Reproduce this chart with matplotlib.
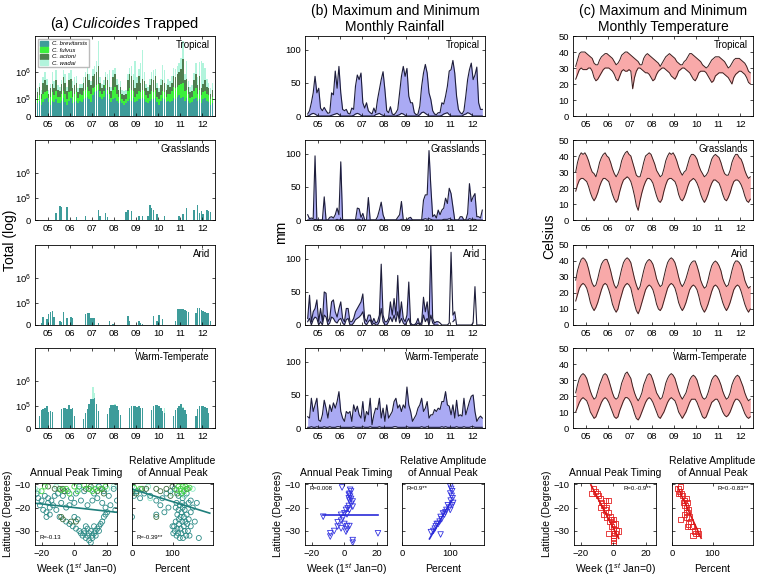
import numpy as np
import matplotlib.pyplot as plt
from matplotlib.patches import Patch

plt.rcParams['font.family'] = ['Liberation Sans', 'DejaVu Sans']
plt.rcParams['mathtext.fontset'] = 'custom'
plt.rcParams['mathtext.rm'] = 'Liberation Sans'
plt.rcParams['mathtext.it'] = 'Liberation Sans:italic'
plt.rcParams['axes.linewidth'] = 0.6

years = ['05', '06', '07', '08', '09', '10', '11', '12']
regions = ['Tropical', 'Grasslands', 'Arid', 'Warm-Temperate']
species = ['C. brevitarsis', 'C. fulvus', 'C. actoni', 'C. wadai']

# Culicoides catches, log10 of the top of each stacked layer, Jan 2005 - Dec 2012 (0 = none)
trop_brev = [4.85, 4.95, 4.80, 4.90, 5.00, 5.05, 4.90, 4.80, 4.95, 4.90, 5.00, 4.85,
             4.85, 4.95, 5.05, 4.90, 4.80, 4.95, 5.05, 4.85, 4.90, 4.95, 4.85, 4.95,
             4.90, 5.00, 5.05, 5.10, 5.00, 4.90, 5.15, 5.25, 5.30, 5.35, 5.10, 5.00,
             5.10, 5.40, 5.20, 5.00, 4.90, 5.00, 5.05, 4.95, 4.85, 4.95, 4.85, 4.80,
             4.85, 4.95, 5.00, 4.95, 5.05, 4.90, 4.95, 5.00, 5.00, 5.05, 5.00, 4.90,
             4.85, 4.95, 5.00, 5.00, 5.05, 4.90, 4.80, 4.95, 5.05, 5.00, 4.90, 4.95,
             4.90, 4.95, 5.05, 5.00, 5.10, 5.15, 5.05, 5.10, 4.95, 5.05, 4.95, 4.85,
             4.90, 5.00, 5.05, 4.95, 5.00, 4.85, 5.00, 5.05, 4.95, 4.90, 4.80, 4.85]
trop_fulv = [5.05, 5.15, 5.00, 5.20, 5.25, 5.30, 5.05, 5.10, 5.25, 5.15, 5.30, 5.10,
             5.10, 5.20, 5.30, 5.20, 5.00, 5.25, 5.30, 5.10, 5.20, 5.25, 5.05, 5.20,
             5.15, 5.30, 5.35, 5.45, 5.30, 5.20, 5.40, 5.45, 5.50, 5.55, 5.30, 5.20,
             5.30, 5.50, 5.35, 5.20, 5.05, 5.35, 5.45, 5.20, 5.10, 5.20, 5.00, 4.95,
             5.00, 5.30, 5.40, 5.35, 5.30, 5.10, 5.20, 5.30, 5.25, 5.35, 5.30, 5.15,
             5.05, 5.20, 5.30, 5.25, 5.35, 5.10, 5.00, 5.15, 5.30, 5.25, 5.10, 5.20,
             5.20, 5.30, 5.45, 5.40, 5.45, 5.50, 5.55, 5.60, 5.30, 5.35, 5.20, 5.05,
             5.10, 5.30, 5.40, 5.20, 5.35, 5.15, 5.25, 5.30, 5.20, 5.15, 5.00, 5.10]
trop_acto = [5.25, 5.45, 5.20, 5.60, 5.70, 5.50, 5.20, 5.40, 5.55, 5.40, 5.70, 5.35,
             5.30, 5.55, 5.80, 5.60, 5.30, 5.70, 5.75, 5.40, 5.50, 5.60, 5.25, 5.40,
             5.40, 5.60, 5.80, 5.90, 5.70, 5.50, 5.85, 5.90, 6.00, 6.20, 5.60, 5.40,
             5.50, 5.80, 5.70, 5.45, 5.30, 5.80, 5.90, 5.50, 5.35, 5.45, 5.20, 5.15,
             5.20, 5.70, 5.90, 5.85, 5.70, 5.40, 5.60, 5.85, 5.60, 5.75, 5.65, 5.40,
             5.30, 5.50, 5.75, 5.70, 5.85, 5.40, 5.25, 5.50, 5.70, 5.60, 5.35, 5.50,
             5.45, 5.60, 5.85, 5.80, 5.90, 6.00, 6.10, 6.45, 5.70, 5.75, 5.45, 5.25,
             5.30, 5.70, 5.90, 5.50, 5.85, 5.40, 5.55, 5.70, 5.45, 5.40, 5.20, 5.35]
trop_wada = [5.40, 5.60, 5.35, 5.80, 6.00, 5.75, 5.35, 5.55, 6.00, 5.65, 6.05, 5.50,
             5.45, 5.70, 6.05, 5.90, 5.45, 5.95, 6.05, 5.65, 5.80, 5.85, 5.40, 5.55,
             5.55, 5.80, 6.00, 6.20, 5.90, 5.65, 6.10, 6.20, 6.40, 7.10, 5.80, 5.55,
             5.70, 6.00, 5.90, 6.05, 5.45, 6.05, 6.15, 5.75, 5.55, 5.65, 5.35, 5.30,
             5.35, 5.90, 6.15, 6.20, 5.90, 6.40, 5.80, 6.10, 6.30, 6.78, 6.00, 5.55,
             5.45, 5.75, 6.00, 6.05, 6.10, 5.60, 5.40, 5.75, 6.25, 6.05, 5.55, 5.75,
             5.65, 5.85, 6.15, 6.10, 6.20, 6.30, 6.50, 7.10, 5.90, 6.40, 5.65, 5.45,
             5.50, 5.95, 6.30, 5.80, 6.35, 6.40, 6.30, 6.15, 5.75, 5.60, 5.40, 5.60]
grass_total = [0, 0, 0, 0, 0, 0, 0, 0, 0, 0, 4.40, 0,
               4.69, 4.66, 0, 0, 4.64, 0, 0, 0, 0, 4.27, 0, 0,
               0, 0, 4.31, 0, 0, 0, 0, 0, 0, 4.53, 4.31, 0,
               0, 4.40, 4.27, 0, 0, 0, 0, 0, 0, 0, 0, 0,
               4.45, 4.55, 0, 4.50, 0, 0, 0, 4.30, 0, 4.30, 0, 0,
               4.30, 4.72, 4.60, 4.52, 0, 4.36, 0, 0, 0, 4.30, 0, 0,
               0, 0, 0, 0, 0, 4.30, 0, 4.38, 0, 4.60, 0, 0,
               0, 4.55, 0, 4.72, 4.40, 4.50, 4.38, 0, 4.55, 4.50, 4.45, 0]
arid_total = [0, 0, 4.23, 4.45, 0, 4.36, 4.58, 4.64, 4.68, 4.45, 0, 0,
              4.30, 4.25, 4.65, 0, 4.40, 0, 4.45, 4.40, 0, 0, 0, 0,
              0, 0, 4.58, 4.62, 4.62, 4.40, 4.40, 4.40, 0, 4.23, 0, 0,
              0, 0, 0, 4.30, 0, 4.18, 0, 0, 0, 0, 0, 0,
              0, 4.50, 4.30, 0, 0, 0, 0, 4.30, 4.23, 4.18, 0, 0,
              0, 0, 0, 4.50, 0, 4.30, 4.55, 0, 4.38, 0, 0, 0,
              0, 0, 0, 4.30, 4.78, 4.78, 4.78, 4.78, 4.74, 4.70, 4.67, 0,
              0, 0, 4.62, 4.80, 4.82, 4.75, 4.68, 4.64, 4.62, 4.62, 4.30, 0]
warm_total = [0, 4.60, 4.86, 4.88, 4.93, 5.00, 4.78, 4.82, 4.78, 0, 0, 0,
              0, 4.90, 4.93, 4.95, 4.88, 5.05, 4.90, 4.95, 4.60, 0, 0, 0,
              0, 4.50, 4.75, 4.90, 5.10, 5.31, 5.30, 5.35, 5.10, 4.80, 0, 0,
              0, 0, 4.70, 4.95, 5.05, 5.05, 5.05, 5.00, 4.85, 4.65, 0, 0,
              0, 0, 4.95, 5.00, 5.00, 5.00, 4.98, 5.00, 4.95, 4.95, 0, 0,
              0, 0, 4.85, 5.00, 5.05, 5.05, 5.00, 4.95, 4.80, 4.75, 0, 0,
              0, 0, 4.60, 4.85, 4.92, 5.00, 5.10, 4.95, 4.85, 4.70, 0, 0,
              0, 0, 4.60, 4.90, 5.00, 5.00, 5.00, 4.98, 4.95, 4.75, 0, 0]
warm_wada = [0, 0, 0, 0, 0, 0, 0, 0, 0, 0, 0, 0,
             0, 0, 0, 0, 0, 0, 0, 0, 0, 0, 0, 0,
             0, 0, 0, 0, 0, 0, 5.76, 5.55, 0, 0, 0, 0,
             0, 0, 0, 0, 0, 0, 5.10, 0, 0, 0, 0, 0,
             0, 0, 0, 0, 0, 0, 0, 0, 0, 0, 0, 0,
             0, 0, 0, 0, 0, 0, 0, 0, 0, 4.95, 0, 0,
             0, 0, 0, 0, 0, 0, 0, 4.98, 0, 0, 0, 0,
             0, 0, 0, 0, 0, 0, 0, 0, 0, 0, 0, 0]

# monthly rainfall (mm), maximum and minimum over sites
trop_rmax = [3, 8, 20, 35, 60, 35, 42, 12, 8, 13, 8, 4,
             5, 35, 32, 68, 42, 75, 35, 10, 8, 10, 4, 3,
             12, 10, 45, 62, 55, 65, 20, 12, 20, 8, 5, 3,
             12, 5, 25, 40, 55, 67, 40, 8, 5, 14, 3, 2,
             5, 10, 35, 60, 75, 60, 72, 30, 20, 20, 5, 2,
             3, 15, 45, 65, 78, 65, 35, 25, 8, 3, 2, 5,
             5, 20, 18, 30, 45, 68, 70, 84, 65, 30, 10, 5,
             3, 8, 30, 55, 70, 80, 55, 62, 74, 20, 10, 10]
trop_rmin = [0, 1, 3, 4, 3, 1, 0, 0, 0, 0, 0, 0,
             0, 1, 2, 3, 4, 2, 0, 0, 0, 0, 0, 0,
             0, 1, 3, 4, 3, 1, 0, 0, 0, 0, 0, 0,
             0, 2, 3, 4, 2, 1, 0, 0, 0, 0, 0, 0,
             0, 1, 2, 4, 3, 1, 0, 0, 0, 0, 0, 0,
             0, 2, 5, 6, 4, 2, 0, 0, 0, 0, 0, 0,
             0, 1, 3, 4, 5, 2, 0, 0, 0, 0, 0, 0,
             0, 2, 3, 5, 4, 2, 0, 0, 0, 0, 0, 0]
grass_rmax = [8, 2, 3, 2, 97, 0, 0, 0, 0, 35, 0, 0,
              4, 5, 3, 8, 18, 8, 88, 0, 0, 0, 0, 0,
              0, 0, 0, 18, 17, 4, 10, 0, 0, 34, 0, 0,
              0, 0, 5, 15, 27, 8, 0, 0, 0, 0, 0, 0,
              0, 4, 8, 28, 0, 0, 0, 3, 4, 0, 0, 0,
              0, 0, 0, 30, 38, 38, 105, 50, 5, 8, 3, 15,
              8, 15, 18, 33, 25, 48, 40, 20, 0, 0, 0, 5,
              5, 0, 0, 10, 55, 28, 35, 40, 5, 5, 3, 15]
grass_rmin = [0, 0, 0, 0, 1, 0, 0, 0, 0, 0, 0, 0,
              0, 0, 0, 0, 1, 0, 1, 0, 0, 0, 0, 0,
              0, 0, 0, 1, 1, 0, 0, 0, 0, 0, 0, 0,
              0, 0, 0, 0, 1, 0, 0, 0, 0, 0, 0, 0,
              0, 0, 0, 1, 0, 0, 0, 0, 0, 0, 0, 0,
              0, 0, 0, 1, 2, 1, 2, 1, 0, 0, 0, 0,
              0, 0, 1, 1, 1, 2, 1, 0, 0, 0, 0, 0,
              0, 0, 0, 0, 2, 1, 1, 1, 0, 0, 0, 0]
arid_rmax = [10, 45, 5, 20, 25, 38, 5, 25, 5, 50, 48, 5,
             10, 35, 38, 20, 12, 25, 35, 10, 5, 25, 25, 5,
             5, 10, 20, 25, 30, 35, 47, 10, 5, 15, 15, 3,
             10, 3, 5, 15, 92, 15, 5, 5, 10, 35, 15, 40,
             15, 75, 10, 35, 10, 5, 15, 65, 3, 0, 0, 3,
             10, 0, 5, 42, 20, 35, 5, 120, 10, 3, 5, 5,
             3, 0, 0, 0, 0, 3, 110, 15, 20, 0, 0, 0,
             0, 0, 0, 0, 0, 0, 3, 58, 0, 0, 0, 0]
arid_rmin = [5, 10, 0, 8, 12, 10, 0, 5, 0, 15, 12, 0,
             3, 12, 10, 5, 3, 8, 10, 3, 0, 8, 10, 0,
             0, 3, 8, 10, 12, 15, 20, 3, 0, 5, 8, 0,
             3, 0, 0, 5, 25, 5, 0, 0, 5, 12, 5, 15,
             5, 20, 3, 10, 3, 0, 5, 10, 0, 0, 0, 0,
             3, 0, 0, 15, 5, 10, 0, 15, 3, 0, 0, 0,
             np.nan, np.nan, np.nan, np.nan, np.nan, np.nan, np.nan, 5, 8, np.nan, np.nan, np.nan,
             np.nan, np.nan, np.nan, np.nan, np.nan, np.nan, np.nan, np.nan, np.nan, np.nan, np.nan, np.nan]
warm_rmax = [17, 15, 45, 25, 35, 45, 12, 10, 20, 42, 30, 15,
             35, 25, 38, 30, 40, 55, 25, 15, 10, 25, 22, 25,
             10, 35, 25, 33, 20, 15, 40, 10, 25, 20, 45, 5,
             20, 30, 28, 45, 15, 30, 10, 35, 15, 20, 25, 40,
             45, 30, 35, 25, 35, 30, 62, 35, 25, 10, 15, 20,
             30, 35, 45, 25, 30, 40, 15, 20, 20, 28, 25, 30,
             28, 40, 40, 55, 35, 33, 20, 35, 15, 42, 18, 20,
             18, 45, 20, 30, 40, 48, 50, 25, 10, 15, 18, 15]
warm_rmin = [1, 1, 2, 1, 1, 2, 1, 1, 1, 2, 1, 1,
             2, 1, 1, 1, 2, 2, 1, 1, 1, 1, 1, 1,
             1, 2, 1, 1, 1, 1, 2, 1, 1, 1, 2, 1,
             1, 1, 1, 2, 1, 1, 1, 1, 1, 1, 1, 2,
             2, 1, 1, 1, 1, 1, 2, 1, 1, 1, 1, 1,
             1, 1, 2, 1, 1, 2, 1, 1, 1, 1, 1, 1,
             1, 2, 1, 2, 1, 1, 1, 1, 1, 2, 1, 1,
             1, 2, 1, 1, 1, 2, 2, 1, 1, 1, 1, 1]

# monthly temperature (Celsius), maximum and minimum over sites
trop_tmax = [31, 35, 39, 40, 40, 40, 39, 38, 37, 36, 33, 32,
             32, 35, 37, 38, 39, 39, 38, 37, 36, 34, 32, 33,
             35, 38, 39, 40, 40, 39, 38, 37, 36, 35, 34, 32,
             32, 36, 38, 39, 38, 37, 36, 35, 34, 33, 31, 33,
             35, 37, 38, 39, 38, 37, 36, 34, 33, 32, 32, 34,
             35, 37, 39, 39, 38, 37, 36, 35, 34, 32, 31, 30,
             31, 33, 35, 36, 37, 37, 37, 36, 35, 34, 32, 30,
             31, 33, 35, 36, 36, 36, 35, 34, 33, 31, 28, 27]
trop_tmin = [23, 26, 29, 30, 29, 29, 29, 30, 30, 28, 24, 22,
             23, 25, 27, 29, 30, 30, 30, 29, 28, 26, 23, 22,
             25, 28, 29, 28, 28, 29, 28, 17, 24, 28, 30, 30,
             29, 28, 27, 27, 26, 24, 22, 23, 26, 28, 29, 30,
             30, 29, 28, 27, 25, 24, 23, 25, 28, 29, 30, 30,
             29, 28, 27, 25, 23, 22, 24, 27, 28, 28, 28, 27,
             25, 23, 21, 22, 25, 26, 27, 27, 27, 26, 25, 24,
             22, 20, 24, 26, 27, 28, 28, 27, 26, 24, 21, 20]
grass_tmax = [30, 36, 40, 42, 41, 42, 40, 37, 33, 30, 29, 27,
              31, 36, 39, 41, 42, 40, 39, 36, 32, 29, 27, 29,
              32, 37, 40, 42, 43, 41, 40, 36, 32, 28, 27, 27,
              31, 36, 40, 41, 42, 41, 38, 35, 31, 29, 27, 28,
              32, 37, 40, 42, 41, 42, 40, 37, 33, 30, 28, 30,
              31, 35, 39, 41, 41, 40, 38, 34, 31, 29, 27, 28,
              30, 34, 38, 40, 41, 40, 39, 36, 32, 29, 28, 28,
              31, 36, 39, 41, 41, 39, 38, 35, 31, 28, 26, 27]
grass_tmin = [18, 22, 25, 26, 26, 25, 24, 21, 17, 14, 12, 14,
              17, 21, 24, 26, 26, 25, 24, 20, 16, 13, 11, 13,
              18, 22, 25, 26, 27, 26, 24, 20, 15, 9, 6, 12,
              17, 21, 24, 26, 26, 25, 23, 19, 15, 12, 11, 13,
              18, 22, 25, 26, 26, 25, 24, 21, 16, 13, 12, 14,
              17, 21, 24, 25, 26, 25, 23, 20, 16, 13, 11, 13,
              16, 20, 23, 25, 25, 24, 23, 20, 16, 13, 12, 14,
              17, 21, 24, 25, 25, 24, 22, 19, 15, 12, 11, 13]
arid_tmax = [28, 34, 38, 41, 42, 41, 39, 35, 30, 26, 24, 25,
             29, 34, 38, 40, 41, 41, 38, 34, 29, 25, 23, 25,
             30, 35, 39, 41, 42, 41, 39, 34, 29, 25, 22, 24,
             29, 34, 38, 40, 41, 40, 38, 34, 29, 26, 24, 25,
             30, 35, 39, 41, 42, 41, 39, 35, 30, 26, 24, 26,
             29, 33, 37, 39, 40, 40, 37, 33, 28, 25, 23, 24,
             28, 33, 37, 39, 40, 39, 37, 34, 29, 26, 24, 25,
             29, 34, 38, 40, 40, 39, 37, 33, 28, 25, 23, 24]
arid_tmin = [15, 19, 23, 25, 26, 25, 23, 19, 14, 11, 9, 11,
             14, 18, 22, 25, 26, 25, 22, 18, 13, 10, 8, 10,
             15, 19, 23, 25, 26, 25, 23, 18, 13, 9, 7, 10,
             14, 18, 22, 24, 25, 24, 22, 18, 13, 10, 9, 11,
             15, 19, 23, 25, 26, 25, 23, 19, 14, 11, 9, 11,
             14, 18, 22, 24, 25, 24, 22, 18, 13, 10, 8, 10,
             13, 17, 21, 24, 25, 24, 22, 18, 14, 11, 9, 11,
             14, 18, 22, 24, 25, 24, 21, 17, 13, 10, 8, 10]
warm_tmax = [22, 27, 31, 33, 34, 33, 31, 27, 23, 20, 18, 19,
             23, 27, 30, 33, 34, 33, 30, 26, 22, 19, 18, 19,
             23, 28, 31, 34, 35, 33, 31, 26, 22, 19, 17, 19,
             22, 27, 30, 33, 34, 33, 30, 26, 22, 20, 18, 19,
             23, 28, 31, 33, 34, 33, 31, 27, 23, 20, 18, 20,
             22, 26, 30, 32, 33, 32, 30, 26, 22, 19, 18, 19,
             22, 26, 30, 32, 33, 32, 30, 27, 23, 20, 18, 19,
             22, 27, 30, 32, 33, 32, 29, 26, 22, 19, 17, 18]
warm_tmin = [10, 13, 16, 18, 19, 18, 17, 14, 10, 8, 6, 7,
             10, 13, 16, 18, 19, 18, 16, 13, 10, 7, 6, 7,
             11, 14, 17, 19, 19, 18, 16, 13, 9, 6, 5, 7,
             10, 13, 16, 18, 19, 18, 16, 13, 10, 7, 6, 8,
             10, 13, 16, 18, 19, 18, 17, 14, 10, 8, 6, 8,
             10, 13, 16, 18, 18, 18, 16, 13, 10, 7, 6, 7,
             10, 13, 16, 17, 18, 18, 16, 13, 10, 8, 7, 8,
             10, 13, 16, 18, 18, 17, 15, 12, 9, 7, 6, 7]

# annual peak timing (week) and relative amplitude (%) against latitude
cul_week = {
    'teal': [(-23, -14), (-22, -16), (-20, -17), (-18, -15), (-16, -16), (-14, -17), (-12, -15), (-10, -14),
             (-7, -15), (-4, -13), (-2, -16), (1, -14), (3, -11), (6, -13), (9, -12), (12, -14), (15, -11),
             (18, -13), (21, -15), (24, -12), (26, -17), (-21, -19), (-19, -21), (-17, -22), (-16, -18),
             (-15, -20), (-13, -19), (-11, -21), (-8, -18), (-5, -20), (-3, -19), (0, -18), (4, -17), (8, -19),
             (11, -17), (14, -16), (17, -18), (19, -20), (22, -19), (25, -21), (-17, -24), (-15, -23),
             (-9, -24), (-5, -26), (-3, -27), (-1, -28), (1, -29), (3, -30), (4, -31), (5, -32), (6, -31),
             (7, -33), (8, -32), (9, -34), (10, -35), (11, -33), (12, -31), (13, -30), (14, -29), (15, -28),
             (16, -27), (17, -26), (18, -24), (19, -23), (20, -22), (10, -30), (8, -29), (12, -28), (6, -30),
             (11, -32), (9, -31), (13, -32), (7, -28), (15, -30), (2, -25), (0, -24)],
    'green': [(-8, -12.5), (-5, -12), (-3, -14), (0, -11), (2, -13), (6, -10.5), (9, -12), (11, -13),
              (13, -12), (16, -12), (19, -11), (-20, -13), (-18, -11)],
    'dark': [(-16, -11), (-9, -12), (-7, -12), (-6, -13), (-12, -12), (7, -12), (10, -11), (14, -13),
             (17, -12), (-8, -24), (-7, -25), (-2, -26), (1, -26), (18, -14)],
    'pale': [(-24, -12), (-22, -13), (3, -12), (12, -10.5), (20, -12), (24, -11), (-11, -11)],
}
cul_amp = {
    'teal': [(0, -14), (5, -15), (12, -13), (20, -16), (30, -14), (45, -15), (60, -17), (75, -16), (85, -14),
             (95, -13), (105, -12), (115, -15), (125, -16), (135, -14), (145, -17), (160, -18), (110, -18),
             (118, -19), (125, -20), (130, -21), (122, -22), (115, -21), (108, -20), (135, -23), (128, -24),
             (120, -24), (112, -23), (140, -25), (132, -26), (124, -26), (116, -27), (108, -26), (104, -28),
             (112, -29), (120, -29), (128, -28), (136, -27), (106, -30), (114, -31), (122, -31), (130, -30),
             (138, -30), (110, -32), (118, -33), (126, -33), (134, -32), (142, -32), (102, -31), (100, -28),
             (116, -25), (130, -19), (124, -18), (145, -22), (150, -20), (155, -26), (165, -33), (0, -24),
             (60, -23), (90, -20), (80, -22), (70, -19), (140, -18), (145, -28)],
    'green': [(5, -11.5), (20, -12), (115, -11), (120, -12), (125, -11), (128, -13), (132, -11), (138, -12),
              (122, -14), (110, -12.5), (142, -11.5)],
    'dark': [(10, -14), (25, -12), (35, -12), (60, -12), (70, -13), (85, -12), (100, -11), (112, -14),
             (135, -12), (95, -15), (60, -24)],
    'pale': [(0, -11), (15, -13), (40, -11), (45, -16), (120, -13), (100, -14), (150, -12), (130, -15)],
}
rain_week = [(-1.4, -11.4), (3.5, -12.4), (4.1, -13.1), (3.1, -14.1), (2.7, -14.5), (3.5, -15.3), (2.7, -16),
             (4.1, -16.3), (3.1, -17), (5.1, -17.4), (4.1, -18.4), (2.7, -19.3), (5.1, -19.6), (2, -20.3),
             (1, -21), (3.1, -21), (0, -22.4), (1.6, -22.9), (-2, -23.1), (-12.9, -23.9), (-1, -24.6),
             (-2, -25.6), (-4.1, -26.3), (0, -27), (1.6, -27.9), (-4.1, -28.1), (3.1, -27.9), (-2, -28.9),
             (1.6, -29.4), (-6.2, -30), (1, -30.3), (-8.6, -31), (-8.6, -32.4), (20.5, -31), (5.1, -33.9),
             (5.1, -35)]
rain_amp = [(100, -11), (102, -12), (104, -13), (100, -14), (103, -15), (105, -16), (101, -17), (106, -18),
            (104, -19), (98, -20), (100, -21), (90, -22), (85, -22.5), (88, -23), (80, -24), (82, -25),
            (78, -26), (75, -27), (72, -27), (70, -28), (68, -29), (65, -30), (60, -30.5), (80, -31.5),
            (95, -19), (92, -21)]
temp_week = [(-12, -12), (-11, -13), (-10, -14), (-13, -14), (-9, -15), (-8, -16), (-5, -17), (-3, -17),
             (-7, -18), (-6, -19), (-8, -20), (-4, -20), (-5, -21), (-3, -22), (-6, -23), (-4, -24), (-2, -24),
             (-1, -25), (0, -25), (-2, -26), (0, -27), (1, -27), (-1, -28), (0, -29), (2, -30), (3, -30),
             (-3, -31), (1, -31), (0, -32), (0, -33), (0, -34), (0, -35)]
temp_amp = [(20, -11), (15, -12), (18, -13), (22, -14), (17, -14), (25, -15), (35, -16), (30, -17), (38, -18),
            (28, -18), (32, -19), (35, -20), (40, -21), (37, -22), (30, -23), (42, -24), (35, -24), (20, -25),
            (45, -26), (40, -27), (50, -28), (47, -28), (38, -28), (55, -30), (62, -30), (65, -31), (58, -31),
            (52, -32)]
# regression lines: slope, intercept, x range, label
fits = [(-0.078, -20.0, (-24, 26), 'R=-0.13'), (-0.0536, -12.1, (0, 192), 'R=-0.39**'),
        (0.0, -23.3, (-12.9, 20.5), 'R=0.008'), (0.36, -53.9, (57, 102), 'R=0.9**'),
        (-1.35, -28.8, (-13.7, 3.2), 'R=0.-0.9**'), (-0.376, -6.0, (14, 72), 'R=0.-0.83**')]

months = 2005 + (np.arange(96) + 0.5) / 12
W, H = 758, 579
fig = plt.figure(figsize=(W / 100, H / 100), dpi=100)


def box(x0, y0, x1, y1):
    return fig.add_axes([x0 / W, 1 - y1 / H, (x1 - x0) / W, (y1 - y0) / H])


def ticks(ax):
    ax.tick_params(direction='in', top=True, right=True, length=2.5, width=0.5, labelsize=6.8, pad=3)


def time_axis(ax, name):
    ax.set_xlim(2004.92, 2013.08)
    ax.set_xticks(np.arange(2005, 2013) + 0.5)
    ax.set_xticklabels(years)
    ticks(ax)
    ax.text(0.972, 0.885, name, transform=ax.transAxes, ha='right', va='center', fontsize=7)


teal, green, dgreen, pale = '#3e9c9a', '#3cf03c', '#4f7f4f', '#b2f4dc'
cols = [(35, 215), (305, 485), (573, 753)]
rows = [(36, 116), (140, 220), (245, 325), (348, 428)]


def bars(ax, tops, color, base):
    tops = np.array(tops, dtype=float)
    keep = tops > 0
    ax.bar(months[keep], tops[keep] - base, bottom=base, width=0.07, color=color, lw=0)


# column (a): Culicoides
for r, (name, tot) in enumerate(zip(regions, [None, grass_total, arid_total, warm_total])):
    ax = box(cols[0][0], rows[r][0], cols[0][1], rows[r][1])
    base, top = (4.395, 7.29) if r == 0 else (4.13, 7.33)
    if r == 0:
        for layer, c in zip([trop_wada, trop_acto, trop_fulv, trop_brev], [pale, dgreen, green, teal]):
            bars(ax, layer, c, base)
        handles = [Patch(color=c) for c in [teal, green, dgreen, pale]]
        ax.legend(handles, species, loc='upper left', prop={'style': 'italic', 'size': 4.3},
                  handlelength=1.3, handleheight=0.9, labelspacing=0.15, borderpad=0.3,
                  frameon=True, fancybox=False, edgecolor='#bbbbbb', framealpha=1,
                  bbox_to_anchor=(0.0, 1.0))
    else:
        if r == 3:
            bars(ax, warm_wada, pale, base)
        bars(ax, tot, teal, base)
    ax.set_ylim(base, top)
    ax.set_yticks([base, 5, 6])
    ax.set_yticklabels(['0', '10$^5$', '10$^6$'])
    time_axis(ax, name)

# column (b): rainfall
for r, (name, hi, lo) in enumerate(zip(regions, [trop_rmax, grass_rmax, arid_rmax, warm_rmax],
                                       [trop_rmin, grass_rmin, arid_rmin, warm_rmin])):
    ax = box(cols[1][0], rows[r][0], cols[1][1], rows[r][1])
    hi = np.array(hi, dtype=float)
    lo = np.array(lo, dtype=float)
    ax.fill_between(months, lo, hi, color='#aaaaf4', lw=0)
    ax.plot(months, hi, color='#1d1d3a', lw=0.8)
    ax.plot(months, lo, color='#1d1d3a', lw=0.8)
    ax.set_ylim(0, 121)
    ax.set_yticks([0, 50, 100])
    time_axis(ax, name)

# column (c): temperature
for r, (name, hi, lo) in enumerate(zip(regions, [trop_tmax, grass_tmax, arid_tmax, warm_tmax],
                                       [trop_tmin, grass_tmin, arid_tmin, warm_tmin])):
    ax = box(cols[2][0], rows[r][0], cols[2][1], rows[r][1])
    ax.fill_between(months, lo, hi, color='#f8a9a9', lw=0)
    ax.plot(months, hi, color='#3a1f1f', lw=0.7)
    ax.plot(months, lo, color='#3a1f1f', lw=0.7)
    ax.set_ylim(0, 50)
    ax.set_yticks(range(0, 51, 10))
    time_axis(ax, name)

# bottom row: peak timing and amplitude
scat_x = [(35, 117), (132, 213), (305, 387), (402, 484), (574, 656), (672, 753)]
cul_colors = {'teal': '#2b8a86', 'green': '#3fd23f', 'dark': '#3e6d3e', 'pale': '#8fe8c8'}
for k, (x0, x1) in enumerate(scat_x):
    ax = box(x0, 483, x1, 545)
    left = k % 2 == 0
    if k < 2:
        groups = cul_week if left else cul_amp
        for g in ['pale', 'teal', 'dark', 'green']:
            pts = np.array(groups[g])
            ax.scatter(pts[:, 0], pts[:, 1], s=13, facecolors='none', edgecolors=cul_colors[g], lw=0.6)
        line_color = '#1f7f7c'
    elif k < 4:
        pts = np.array(rain_week if left else rain_amp)
        ax.scatter(pts[:, 0], pts[:, 1], s=16, marker='v', facecolors='none', edgecolors='#3434e0', lw=0.6)
        line_color = '#2a2ad8'
    else:
        pts = np.array(temp_week if left else temp_amp)
        ax.scatter(pts[:, 0], pts[:, 1], s=14, marker='s', facecolors='none', edgecolors='#e42222', lw=0.6)
        line_color = '#d81818'
    slope, icpt, xr, rtxt = fits[k]
    xs = np.array(xr)
    ax.plot(xs, slope * xs + icpt, color=line_color, lw=1.2)
    if k < 2:
        ax.text(0.05, 0.1, rtxt, transform=ax.transAxes, fontsize=4.3)
    elif k < 4:
        ax.text(0.05, 0.88, rtxt, transform=ax.transAxes, fontsize=4.3)
    else:
        ax.text(0.95, 0.88, rtxt, transform=ax.transAxes, fontsize=4.3, ha='right')
    ax.set_ylim(-36, -9.5)
    ax.set_yticks([-30, -20, -10])
    if left:
        ax.set_xlim(-24, 26)
        ax.set_xticks([-20, 0, 20])
        ax.set_title('Annual Peak Timing', fontsize=7.5, pad=5)
        ax.set_xlabel('Week (1$^{st}$ Jan=0)', fontsize=7.5, labelpad=2)
        ax.set_ylabel('Latitude (Degrees)', fontsize=7.5, labelpad=1)
    else:
        ax.set_xlim(0, 170 if k == 3 else 200)
        ax.set_xticks([0, 100])
        ax.set_yticklabels([])
        ax.set_title('Relative Amplitude\nof Annual Peak', fontsize=7.5, pad=5, linespacing=1.3)
        ax.set_xlabel('Percent', fontsize=7.5, labelpad=4)
    ticks(ax)

fig.text(125 / W, 1 - 24 / H, '(a) $\\it{Culicoides}$ Trapped', ha='center', va='center', fontsize=10.5)
fig.text(395 / W, 1 - 19 / H, '(b) Maximum and Minimum\nMonthly Rainfall', ha='center', va='center',
         fontsize=10, linespacing=1.25)
fig.text(663 / W, 1 - 19 / H, '(c) Maximum and Minimum\nMonthly Temperature', ha='center', va='center',
         fontsize=10, linespacing=1.25)
fig.text(10 / W, 1 - 240 / H, 'Total (log)', rotation=90, ha='center', va='center', fontsize=10)
fig.text(281 / W, 1 - 232 / H, 'mm', rotation=90, ha='center', va='center', fontsize=10)
fig.text(549 / W, 1 - 236 / H, 'Celsius', rotation=90, ha='center', va='center', fontsize=10)

fig.savefig('out.png', dpi=100)
